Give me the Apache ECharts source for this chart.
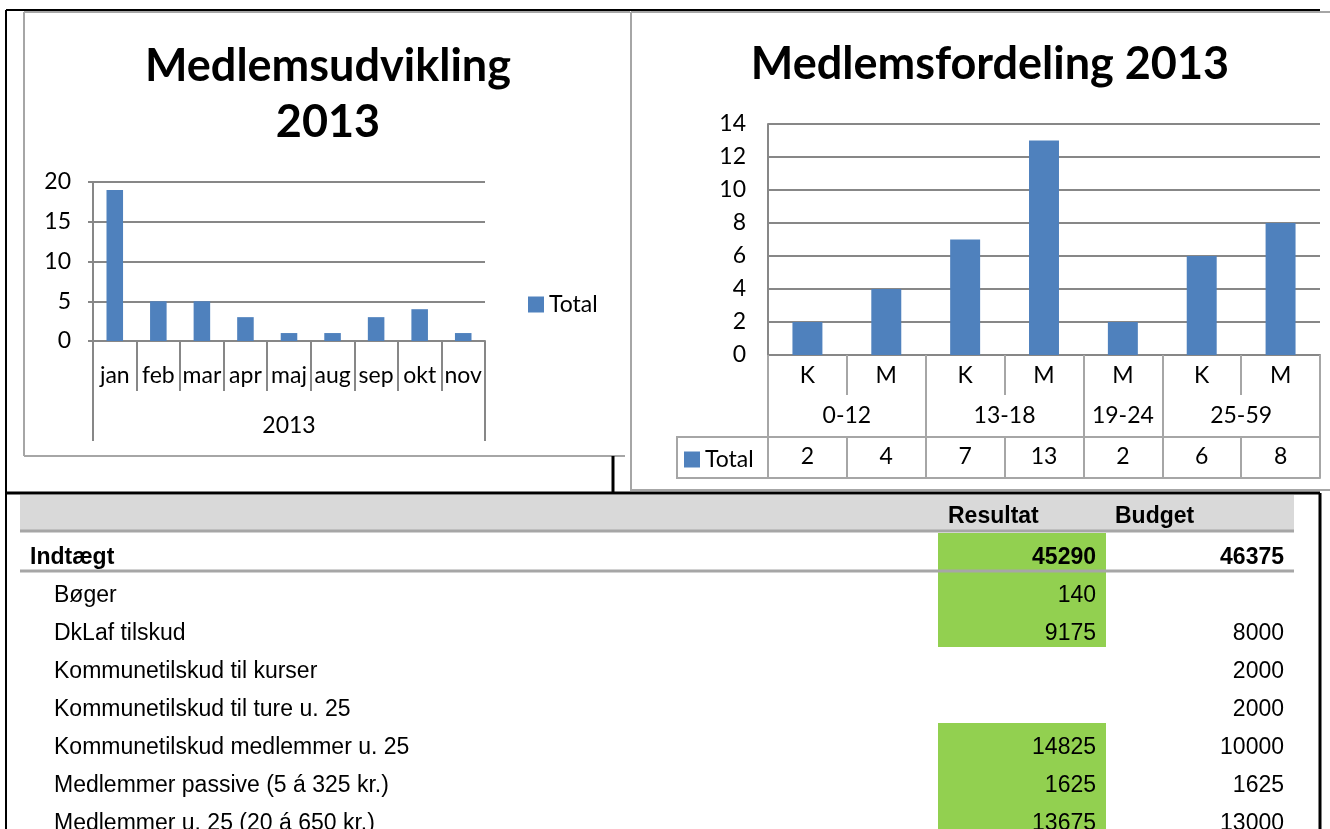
<!DOCTYPE html>
<html><head><meta charset="utf-8">
<script src="https://cdn.jsdelivr.net/npm/echarts@6/dist/echarts.min.js"></script>
<style>html,body{margin:0;padding:0;background:#fff}#c{width:1330px;height:829px}</style>
</head><body><div id="c"></div>
<script>
// ---- data ----
const monthCats = ['jan','feb','mar','apr','maj','aug','sep','okt','nov'];
const monthValues = [19,5,5,3,1,1,3,4,1];
const yearLabel = ['2013'];
const genderCats = ['K','M','K','M','M','K','M'];
const genderValues = [2,4,7,13,2,6,8];
const ageGroups = ['0-12','13-18','19-24','25-59'];
const ageGroupStart = [0,2,4,5];
const ageGroupEnd = [1,3,4,6];
const seriesName = 'Total';
const titleLeftLines = ['Medlemsudvikling','2013'];
const titleRight = 'Medlemsfordeling 2013';
const tableHeader = ['Resultat','Budget'];
const rowLabels = ['Indtægt','Bøger','DkLaf tilskud','Kommunetilskud til kurser','Kommunetilskud til ture u. 25','Kommunetilskud medlemmer u. 25','Medlemmer passive (5 á 325 kr.)','Medlemmer u. 25 (20 á 650 kr.)'];
const rowResultat = ['45290','140','9175','','','14825','1625','13675'];
const rowBudget = ['46375','','8000','2000','2000','10000','1625','13000'];
const rowBold = [true,false,false,false,false,false,false,false];
const rowGreen = [true,true,true,false,false,true,true,true];

// ---- styles ----
const BLUE = '#4f81bd';
const GRID = '#878787';
const FRAME = '#a6a6a6';
const CF = 'Lato';
const TF = '"Liberation Sans", Arial, sans-serif';

const chart = echarts.init(document.getElementById('c'), null, {renderer:'canvas'});

// graphic: frames, titles, table
const g = [];
function line(x1,y1,x2,y2,color,w){ g.push({type:'line', silent:true, shape:{x1,y1,x2,y2}, style:{stroke:color, lineWidth:w}}); }
function text(t,x,y,font,align){ g.push({type:'text', silent:true, x, y, style:{text:t, font, fill:'#000', align:align||'left', verticalAlign:'middle'}}); }

// chart frames
line(24,12,630,12,FRAME,2); line(24,12,24,456,FRAME,2); line(24,456,625,456,FRAME,2);
line(631,12,1330,12,FRAME,2); line(631,12,631,491,FRAME,2); line(631,490,1330,490,FRAME,2);
// black outer lines
line(6,10,1320,10,'#000',2); line(6,10,6,829,'#000',2);
line(6,493,1320,493,'#000',3); line(613,456,613,493,'#000',3); line(1320,493,1320,829,'#000',3);
// titles
text(titleLeftLines[0],328,66,'bold 45px '+CF,'center');
text(titleLeftLines[1],328,122,'bold 45px '+CF,'center');
text(titleRight,990,64,'bold 45px '+CF,'center');
// data-table legend cell (right chart)
g.push({type:'rect', silent:true, shape:{x:677,y:437,width:91,height:41}, style:{fill:'none', stroke:FRAME, lineWidth:2}});

// table
g.push({type:'rect', silent:true, shape:{x:20,y:495,width:1274,height:36}, style:{fill:'#d9d9d9'}});
const rowTop0 = 533, rowH = 38;
rowLabels.forEach((lab,i)=>{
  const top = rowTop0 + rowH*i;
  if (rowGreen[i]) g.push({type:'rect', silent:true, shape:{x:938,y:top,width:168,height:rowH}, style:{fill:'#92d050'}});
});
line(20,531,1294,531,FRAME,3);
line(20,571,1294,571,FRAME,3);
text(tableHeader[0],948,517,'bold 23px '+TF,'left');
text(tableHeader[1],1115,517,'bold 23px '+TF,'left');
rowLabels.forEach((lab,i)=>{
  const cy = rowTop0 + rowH*i + 25;
  const f = (rowBold[i]?'bold ':'')+'23px '+TF;
  text(lab, rowBold[i]?30:54, cy, f, 'left');
  if (rowResultat[i]) text(rowResultat[i],1096,cy,f,'right');
  if (rowBudget[i]) text(rowBudget[i],1284,cy,f,'right');
});

const axisLbl = {color:'#000', fontFamily:CF, fontSize:23};
const option = {
  animation:false,
  backgroundColor:'#fff',
  graphic: g,
  legend:[
    {data:[seriesName], left:528, top:293, padding:0, icon:'rect', itemWidth:16, itemHeight:16, selectedMode:false,
     textStyle:{color:'#000', fontFamily:CF, fontSize:23}},
    {data:[seriesName], left:684, top:448, padding:0, icon:'rect', itemWidth:16, itemHeight:16, selectedMode:false,
     textStyle:{color:'#000', fontFamily:CF, fontSize:23}}
  ],
  grid:[
    {left:93, top:182, width:392, height:159, containLabel:false},
    {left:768, top:124, width:552, height:231, containLabel:false}
  ],
  xAxis:[
    {type:'category', gridIndex:0, data:monthCats,
     axisLine:{show:true, lineStyle:{color:GRID, width:2}},
     axisTick:{show:true, length:50, interval:0, lineStyle:{color:GRID, width:2}},
     axisLabel:Object.assign({interval:0, margin:23}, axisLbl)},
    {type:'category', gridIndex:0, position:'bottom', data:yearLabel,
     axisLine:{show:false},
     axisTick:{show:true, length:100, lineStyle:{color:GRID, width:2}},
     axisLabel:Object.assign({margin:73}, axisLbl)},
    {type:'category', gridIndex:1, data:genderCats,
     axisLine:{show:true, lineStyle:{color:GRID, width:2}},
     axisTick:{show:true, length:40, interval:0, lineStyle:{color:FRAME, width:2}},
     axisLabel:Object.assign({interval:0, margin:9}, axisLbl)},
    {type:'category', gridIndex:1, position:'bottom', data:genderCats,
     axisLine:{show:false},
     axisTick:{show:true, length:82, interval:function(idx){ return ageGroupStart.indexOf(idx) >= 0; }, lineStyle:{color:FRAME, width:2}},
     axisLabel:{show:false}},
    {type:'category', gridIndex:1, position:'bottom', offset:82, data:genderValues.map(String),
     axisLine:{show:true, lineStyle:{color:FRAME, width:2}},
     axisTick:{show:true, length:41, interval:0, lineStyle:{color:FRAME, width:2}},
     axisLabel:Object.assign({interval:0, margin:8}, axisLbl)},
    {type:'category', gridIndex:1, position:'bottom', offset:123, data:genderCats,
     axisLine:{show:true, lineStyle:{color:FRAME, width:2}},
     axisTick:{show:false}, axisLabel:{show:false}}
  ],
  yAxis:[
    {type:'value', gridIndex:0, min:0, max:20, interval:5,
     axisLine:{show:true, lineStyle:{color:GRID, width:2}},
     axisTick:{show:true, length:5, lineStyle:{color:GRID, width:2}},
     splitLine:{show:true, lineStyle:{color:GRID, width:2}},
     axisLabel:Object.assign({margin:22}, axisLbl)},
    {type:'value', gridIndex:1, min:0, max:14, interval:2,
     axisLine:{show:true, lineStyle:{color:GRID, width:2}},
     axisTick:{show:false},
     splitLine:{show:true, lineStyle:{color:GRID, width:2}},
     axisLabel:Object.assign({margin:22}, axisLbl)}
  ],
  series:[
    {name:seriesName, type:'bar', xAxisIndex:0, yAxisIndex:0, data:monthValues, barWidth:'38%', itemStyle:{color:BLUE}},
    {name:seriesName, type:'bar', xAxisIndex:2, yAxisIndex:1, data:genderValues, barWidth:'38%', itemStyle:{color:BLUE}},
    {name:'ageGroups', type:'custom', xAxisIndex:2, yAxisIndex:1, silent:true, clip:false,
     data:ageGroups.map((grp,i)=>[ageGroupStart[i], ageGroupEnd[i]]),
     renderItem:function(params, api){
       const a = api.coord([api.value(0), 0]);
       const b = api.coord([api.value(1), 0]);
       return {type:'text', x:(a[0]+b[0])/2, y:a[1]+61,
         style:{text:ageGroups[params.dataIndex], fill:'#000', font:'23px '+CF, align:'center', verticalAlign:'middle', textAlign:'center', textVerticalAlign:'middle'}};
     }}
  ]
};
chart.setOption(option);
</script></body></html>
